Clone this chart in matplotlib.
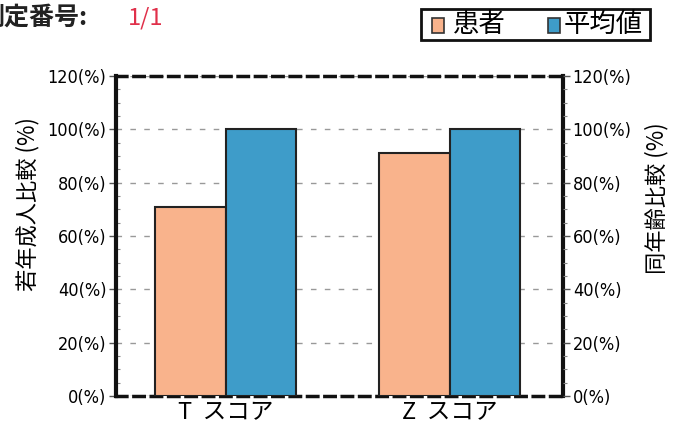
import matplotlib
matplotlib.use("Agg")
import matplotlib.pyplot as plt
from matplotlib.patches import Rectangle
import numpy as np

categories = ["T  スコア", "Z  スコア"]
patient = [71, 91]
average = [100, 100]
yticks = [0, 20, 40, 60, 80, 100, 120]
ytick_labels = [f"{v}(%)" for v in yticks]
legend_labels = ["患者", "平均値"]

plt.rcParams['font.family'] = ['Noto Sans CJK JP', 'DejaVu Sans']
narrow = ['DejaVu Sans']

c_pat = '#F9B38C'
c_avg = '#3E9CC9'

fig = plt.figure(figsize=(6.83, 4.36), dpi=100)
ax = fig.add_axes([116/683, 1-396/436, 447/683, 320/436])

x = np.arange(len(categories))
w = 0.315
ax.bar(x - w/2, patient, w, color=c_pat, edgecolor='#222222', linewidth=1.5, zorder=3)
ax.bar(x + w/2, average, w, color=c_avg, edgecolor='#222222', linewidth=1.5, zorder=3)

ax.set_xlim(-0.49, 1.505)
ax.set_ylim(0, 120)
ax.set_yticks(yticks)
ax.set_yticklabels(ytick_labels, family=narrow, fontstretch='condensed', fontsize=13)
ax.set_yticks(np.arange(0, 121, 5), minor=True)
ax.set_xticks(x)
ax.set_xticklabels(categories, fontsize=17)
ax.tick_params(axis='x', length=0, pad=4)
ax.tick_params(axis='y', which='major', direction='out', length=5, width=1, color='#555555', pad=2)
ax.tick_params(axis='y', which='minor', direction='in', length=3, width=0.8, color='#888888')

ax.grid(axis='y', which='major', linestyle=(0, (4, 6)), color='#999999', linewidth=1, zorder=0)

for s in ['left', 'right']:
    ax.spines[s].set_linewidth(3)
    ax.spines[s].set_color('#111111')
for s in ['top', 'bottom']:
    ax.spines[s].set_linewidth(2.5)
    ax.spines[s].set_color('#111111')
    ax.spines[s].set_linestyle((0, (3, 2)))

ax2 = ax.twinx()
ax2.set_ylim(0, 120)
ax2.set_yticks(yticks)
ax2.set_yticklabels(ytick_labels, family=narrow, fontstretch='condensed', fontsize=13)
ax2.set_yticks(np.arange(0, 121, 5), minor=True)
ax2.tick_params(axis='y', which='major', direction='out', length=5, width=1, color='#555555', pad=2)
ax2.tick_params(axis='y', which='minor', direction='out', length=3, width=0.8, color='#888888')
for s in ax2.spines.values():
    s.set_visible(False)

fig.text(28/683, 1-204/436, "若年成人比較 (%)", rotation=90, fontsize=16, ha='center', va='center')
fig.text(657/683, 1-198/436, "同年齢比較 (%)", rotation=90, fontsize=16, ha='center', va='center')

fig.text(-21/683, 1-18/436, "測定番号:", fontsize=18, ha='left', va='center', color='#222222', weight='bold')
fig.text(128/683, 1-18/436, "1/1", fontsize=17, ha='left', va='center', color='#E0304A')

# legend box
fig.patches.append(Rectangle((421/683, 1-40/436), 229/683, 31/436, transform=fig.transFigure,
                             fill=False, edgecolor='#111111', linewidth=2))
fig.patches.append(Rectangle((432/683, 1-33/436), 12/683, 15/436, transform=fig.transFigure,
                             facecolor=c_pat, edgecolor='#333333', linewidth=1.2))
fig.text(453/683, 1-24/436, legend_labels[0], fontsize=19, ha='left', va='center')
fig.patches.append(Rectangle((548/683, 1-33/436), 12/683, 15/436, transform=fig.transFigure,
                             facecolor=c_avg, edgecolor='#333333', linewidth=1.2))
fig.text(564/683, 1-24/436, legend_labels[1], fontsize=19, ha='left', va='center')

fig.savefig("out.png", dpi=100)
